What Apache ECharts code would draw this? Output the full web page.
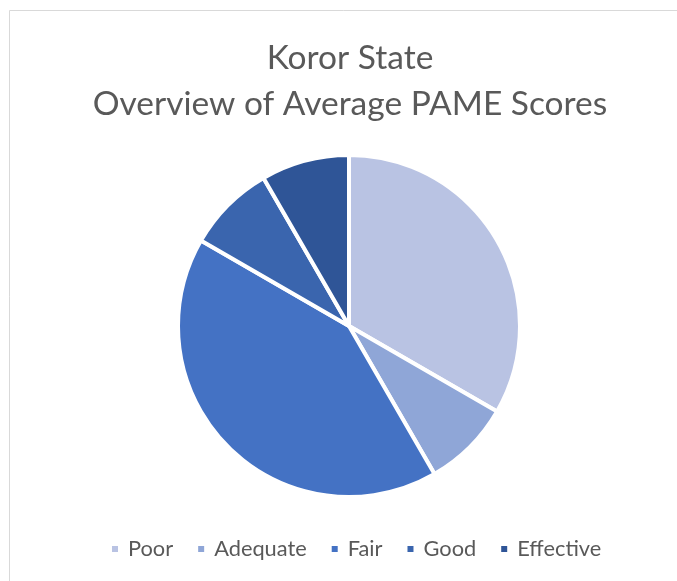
<!DOCTYPE html>
<html>
<head>
<meta charset="utf-8">
<style>
  html, body { margin: 0; padding: 0; background: #fff; }
  #chart { width: 677px; height: 581px; }
</style>
<script src="https://cdn.jsdelivr.net/npm/echarts@6/dist/echarts.min.js"></script>
</head>
<body>
<div id="chart"></div>
<script>
// Score categories and number of sites in each
const categories = ['Poor', 'Adequate', 'Fair', 'Good', 'Effective'];
const siteCounts = [4, 1, 5, 1, 1];
const sliceColors = ['#B9C3E3', '#8FA6D7', '#4472C4', '#3A65AE', '#2F5597'];
const titleLines = ['Koror State', 'Overview of Average PAME Scores'];

const chart = echarts.init(document.getElementById('chart'), null, { renderer: 'canvas' });
const font = 'Lato, "Open Sans", sans-serif';

chart.setOption({
  animation: false,
  backgroundColor: '#ffffff',
  color: sliceColors,
  title: {
    text: titleLines.join('\n'),
    left: 345,
    textAlign: 'center',
    top: 30,
    textStyle: {
      fontFamily: font,
      fontSize: 33.5,
      fontWeight: 'normal',
      color: '#595959',
      lineHeight: 46
    }
  },
  legend: {
    bottom: 16,
    left: 105,
    icon: 'rect',
    itemWidth: 8,
    itemHeight: 8,
    itemGap: 23,
    textStyle: { fontFamily: font, fontSize: 21.8, color: '#595959', padding: [0, 0, 0, 4] },
    data: categories
  },
  graphic: [{
    type: 'rect',
    shape: { x: 9.5, y: 10.5, width: 700, height: 600 },
    style: { fill: 'none', stroke: '#d9d9d9', lineWidth: 1 },
    silent: true
  }],
  series: [{
    type: 'pie',
    center: [349, 326],
    radius: 171,
    startAngle: 90,
    clockwise: true,
    label: { show: false },
    labelLine: { show: false },
    itemStyle: { borderColor: '#ffffff', borderWidth: 4 },
    emphasis: { disabled: true },
    data: categories.map((name, i) => ({ name, value: siteCounts[i] }))
  }]
});
</script>
</body>
</html>
